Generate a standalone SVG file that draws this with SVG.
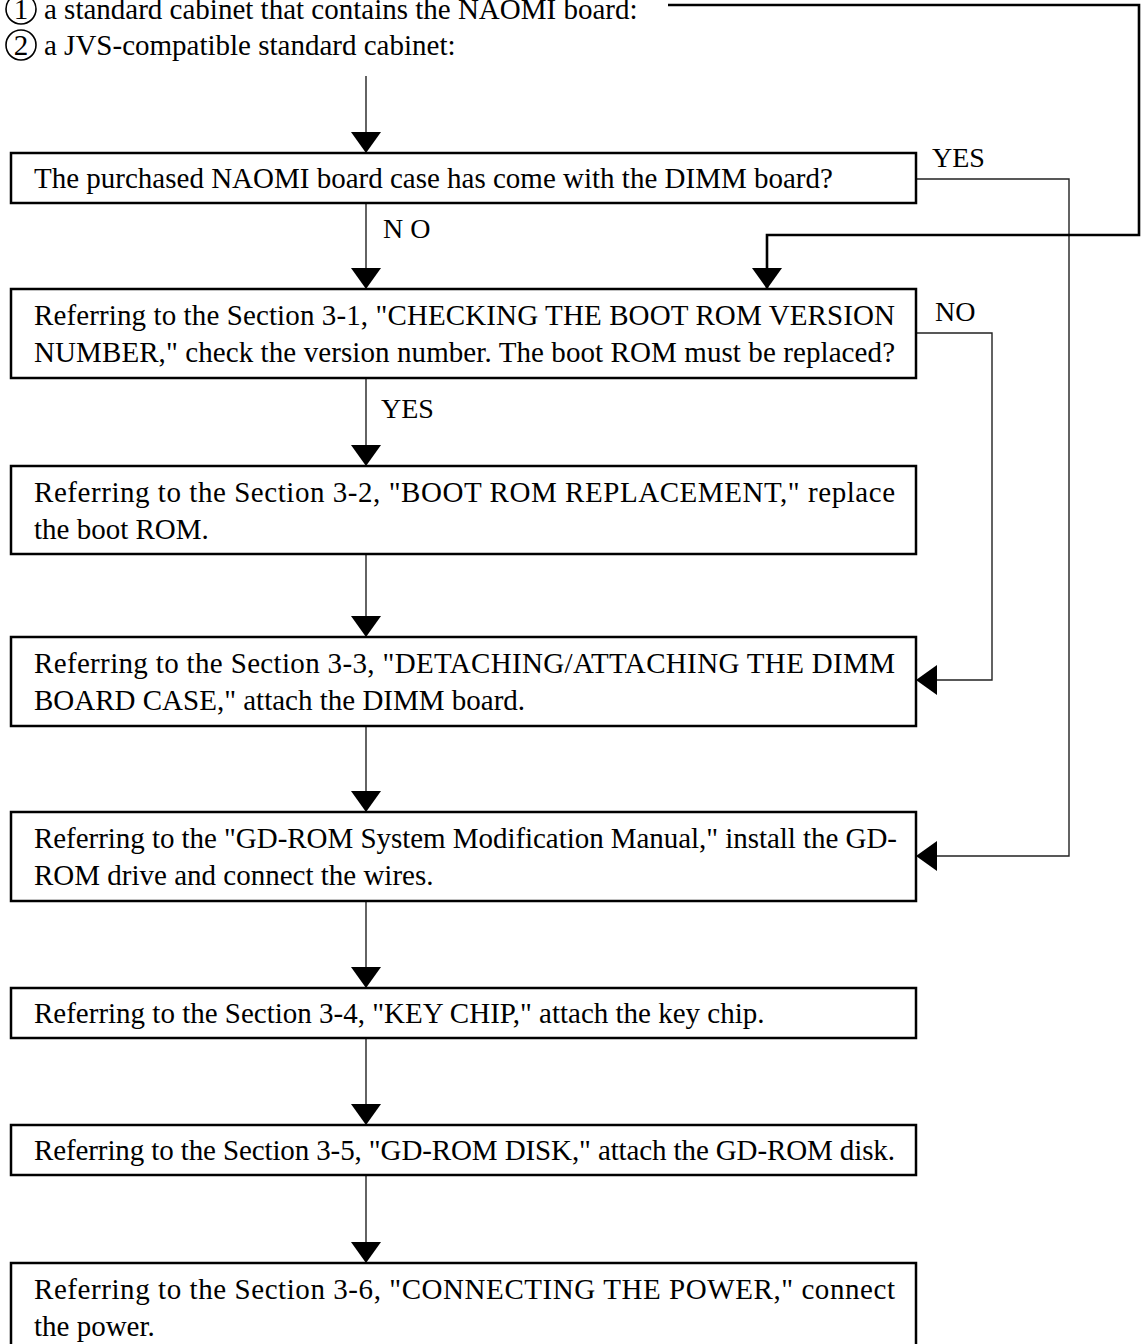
<svg xmlns="http://www.w3.org/2000/svg" width="1141" height="1344" viewBox="0 0 1141 1344">
<style>
  .box { fill: #fff; stroke: #000; stroke-width: 2.5; }
  .t { font-family: "Liberation Serif", "Times New Roman", serif; font-size: 29px; fill: #000; }
  .lbl { font-family: "Liberation Serif", "Times New Roman", serif; font-size: 28px; fill: #000; }
  .thin { fill: none; stroke: #222; stroke-width: 1.4; }
  .thick { fill: none; stroke: #000; stroke-width: 2.6; }
  .circ { fill: none; stroke: #000; stroke-width: 1.6; }
</style>
<defs>
  <marker id="ah" viewBox="0 0 21 30" refX="21" refY="15" markerWidth="21" markerHeight="30" markerUnits="userSpaceOnUse" orient="auto">
    <path d="M0,0 L21,15 L0,30 Z" fill="#000"/>
  </marker>
</defs>

<g id="legend">
  <circle class="circ" cx="21" cy="9" r="15"/>
  <text class="t" x="21" y="19" text-anchor="middle" font-size="27">1</text>
  <text class="t" x="44" y="19">a standard cabinet that contains the NAOMI board:</text>
  <circle class="circ" cx="21" cy="45" r="15"/>
  <text class="t" x="21" y="55" text-anchor="middle" font-size="27">2</text>
  <text class="t" x="44" y="55">a JVS-compatible standard cabinet:</text>
</g>

<g id="connectors">
  <path class="thin" d="M366,76 V153" marker-end="url(#ah)"/>
  <path class="thin" d="M366,203 V289" marker-end="url(#ah)"/>
  <path class="thin" d="M366,378 V466" marker-end="url(#ah)"/>
  <path class="thin" d="M366,554 V637" marker-end="url(#ah)"/>
  <path class="thin" d="M366,726 V812" marker-end="url(#ah)"/>
  <path class="thin" d="M366,901 V988" marker-end="url(#ah)"/>
  <path class="thin" d="M366,1038 V1125" marker-end="url(#ah)"/>
  <path class="thin" d="M366,1175 V1263" marker-end="url(#ah)"/>
  <path class="thin" d="M916,179 H1069 V856 H916" marker-end="url(#ah)"/>
  <path class="thin" d="M916,333 H992 V680 H916" marker-end="url(#ah)"/>
  <path class="thick" d="M668,5 H1139 V235 H767 V289" marker-end="url(#ah)"/>
  <text class="lbl" x="932" y="167">YES</text>
  <text class="lbl" x="383" y="238">N O</text>
  <text class="lbl" x="935" y="321">NO</text>
  <text class="lbl" x="381" y="418">YES</text>
</g>

<g id="n1">
  <rect class="box" x="11" y="153" width="905" height="50"/>
  <text class="t" x="34" y="188">The purchased NAOMI board case has come with the DIMM board?</text>
</g>
<g id="n2">
  <rect class="box" x="11" y="289" width="905" height="89"/>
  <text class="t" x="34" y="325" textLength="861">Referring to the Section 3-1, "CHECKING THE BOOT ROM VERSION</text>
  <text class="t" x="34" y="362" textLength="861">NUMBER," check the version number. The boot ROM must be replaced?</text>
</g>
<g id="n3">
  <rect class="box" x="11" y="466" width="905" height="88"/>
  <text class="t" x="34" y="502" textLength="861">Referring to the Section 3-2, "BOOT ROM REPLACEMENT," replace</text>
  <text class="t" x="34" y="539">the boot ROM.</text>
</g>
<g id="n4">
  <rect class="box" x="11" y="637" width="905" height="89"/>
  <text class="t" x="34" y="673" textLength="861">Referring to the Section 3-3, "DETACHING/ATTACHING THE DIMM</text>
  <text class="t" x="34" y="710">BOARD CASE," attach the DIMM board.</text>
</g>
<g id="n5">
  <rect class="box" x="11" y="812" width="905" height="89"/>
  <text class="t" x="34" y="848" textLength="863">Referring to the "GD-ROM System Modification Manual," install the GD-</text>
  <text class="t" x="34" y="885">ROM drive and connect the wires.</text>
</g>
<g id="n6">
  <rect class="box" x="11" y="988" width="905" height="50"/>
  <text class="t" x="34" y="1023">Referring to the Section 3-4, "KEY CHIP," attach the key chip.</text>
</g>
<g id="n7">
  <rect class="box" x="11" y="1125" width="905" height="50"/>
  <text class="t" x="34" y="1160" textLength="861">Referring to the Section 3-5, "GD-ROM DISK," attach the GD-ROM disk.</text>
</g>
<g id="n8">
  <rect class="box" x="11" y="1263" width="905" height="89"/>
  <text class="t" x="34" y="1299" textLength="861">Referring to the Section 3-6, "CONNECTING THE POWER," connect</text>
  <text class="t" x="34" y="1336">the power.</text>
</g>
</svg>
